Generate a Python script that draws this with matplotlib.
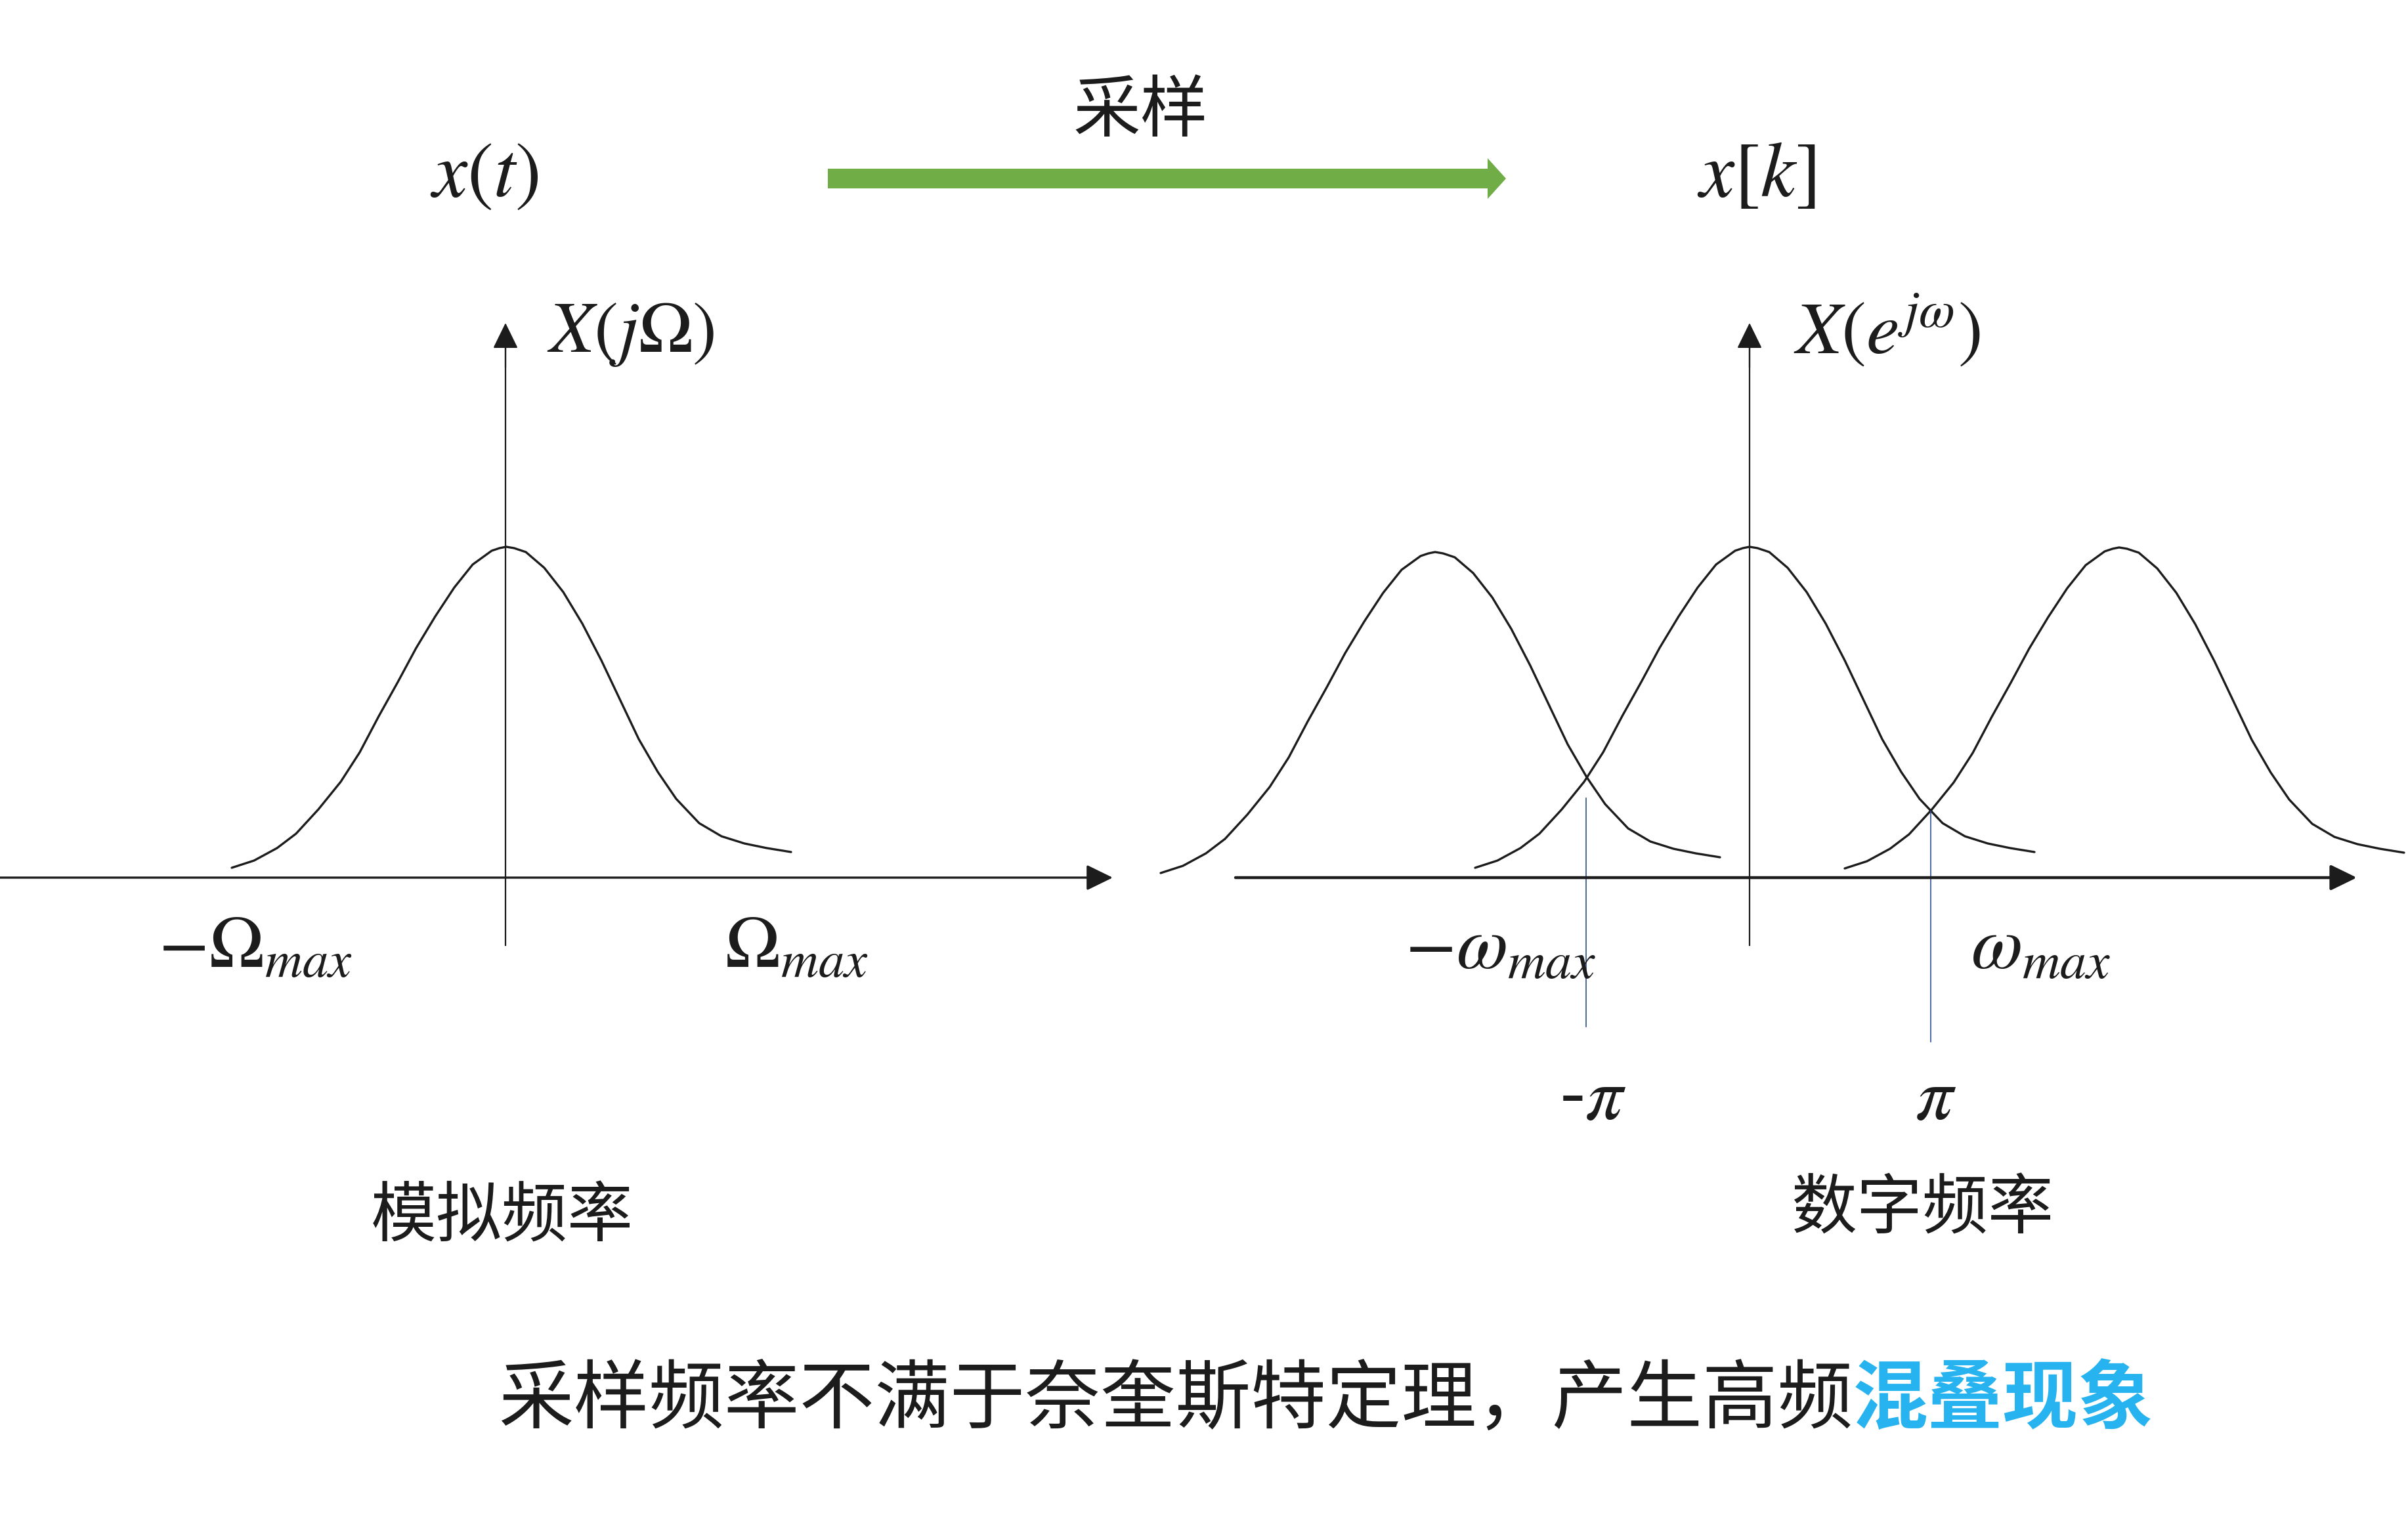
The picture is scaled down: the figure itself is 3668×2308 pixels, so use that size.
import matplotlib
matplotlib.use("Agg")
import matplotlib.pyplot as plt
from matplotlib.patches import FancyArrow

plt.rcParams['font.family'] = ['Noto Sans CJK SC', 'DejaVu Sans']
plt.rcParams['mathtext.fontset'] = 'stix'

# spectrum shape: offset from the centre, height above the axis
shape_dx = [-418, -384, -349, -320, -286, -252, -223, -194, -165, -137, -108, -79, -51, -22, -10, 0,
            12, 30, 58, 87, 116, 145, 173, 202, 231, 259, 294, 328, 363, 397, 434]
shape_h = [15, 26, 45, 67, 104, 146, 191, 246, 298, 350, 398, 442, 477, 498, 502, 504,
           502, 496, 472, 435, 387, 331, 272, 211, 161, 120, 83, 63, 52, 45, 39]

axis_y = 1337
left_centre = 771
right_centres = [2186, 2665, 3228]
right_drop = [8, 0, 1]

# pi markers (x, top, bottom)
pi_x = [2416, 2941]
pi_top = [1216, 1236]
pi_bottom = [1564, 1587]

INK = '#1c1c1c'
CJK_WEIGHT = 'light'


def draw_spectrum(ax, centre, drop=0):
    xs = [centre + d for d in shape_dx]
    ys = [axis_y + drop - h for h in shape_h]
    ax.plot(xs, ys, color=INK, lw=2.4, solid_capstyle='round')


def axis_arrow(ax, start, tip, lw):
    ax.annotate('', xy=tip, xytext=start,
                arrowprops=dict(arrowstyle='-|>,head_length=0.45,head_width=0.22',
                                lw=lw, color=INK, shrinkA=0, shrinkB=0,
                                mutation_scale=55))


def main():
    fig = plt.figure(figsize=(36.68, 23.08), dpi=100)
    ax = fig.add_axes([0, 0, 1, 1])
    ax.set_xlim(0, 3668)
    ax.set_ylim(2308, 0)
    ax.axis('off')

    # sampling arrow
    ax.add_patch(FancyArrow(1261, 272, 1033, 0, width=30, head_width=62, head_length=28,
                            length_includes_head=True, color='#70ad47', lw=0))
    ax.text(1737, 170, '采样', ha='center', va='center', fontsize=74, color=INK, weight=CJK_WEIGHT)
    ax.text(738, 265, r'$x(t)$', ha='center', va='center', fontsize=86, color=INK)
    ax.text(2675, 265, r'$x[k]$', ha='center', va='center', fontsize=86, color=INK)

    # left panel
    axis_arrow(ax, (0, axis_y), (1695, axis_y), 2.4)
    ax.plot([770, 770], [1440, 530], color=INK, lw=1.6)
    axis_arrow(ax, (770, 560), (770, 492), 1.6)
    draw_spectrum(ax, left_centre)
    ax.text(833, 504, r'$X(j\Omega)$', ha='left', va='center', fontsize=80, color=INK)
    ax.text(241, 1474, r'$-\Omega_{max}$', ha='left', va='baseline', fontsize=81, color=INK)
    ax.text(1104, 1474, r'$\Omega_{max}$', ha='left', va='baseline', fontsize=81, color=INK)
    ax.text(765, 1855, '模拟频率', ha='center', va='center', fontsize=72, color=INK, weight=CJK_WEIGHT)

    # right panel
    axis_arrow(ax, (1882, axis_y), (3590, axis_y), 3.2)
    ax.plot([2665, 2665], [1440, 530], color=INK, lw=1.6)
    axis_arrow(ax, (2665, 560), (2665, 492), 1.6)
    for c, d in zip(right_centres, right_drop):
        draw_spectrum(ax, c, d)
    for x, t, b in zip(pi_x, pi_top, pi_bottom):
        ax.plot([x, x], [t, b], color='#2d4f95', lw=1.2)
    ax.text(2732, 504, r'$X(e^{j\omega})$', ha='left', va='center', fontsize=82, color=INK)
    ax.text(2140, 1476, r'$-\omega_{max}$', ha='left', va='baseline', fontsize=82, color=INK)
    ax.text(3002, 1476, r'$\omega_{max}$', ha='left', va='baseline', fontsize=82, color=INK)
    ax.text(2426, 1672, r'-$\pi$', ha='center', va='center', fontsize=82, color=INK)
    ax.text(2949, 1672, r'$\pi$', ha='center', va='center', fontsize=82, color=INK)
    ax.text(2928, 1843, '数字频率', ha='center', va='center', fontsize=72, color=INK, weight=CJK_WEIGHT)

    # caption
    ax.text(2822, 2134, '采样频率不满于奈奎斯特定理，产生高频', ha='right', va='center',
            fontsize=82.5, color=INK, weight=CJK_WEIGHT)
    ax.text(2822, 2134, '混叠现象', ha='left', va='center', fontsize=82.5,
            color='#27b3ef', weight='bold')

    fig.savefig('out.png', dpi=100, facecolor='white')


if __name__ == '__main__':
    main()
